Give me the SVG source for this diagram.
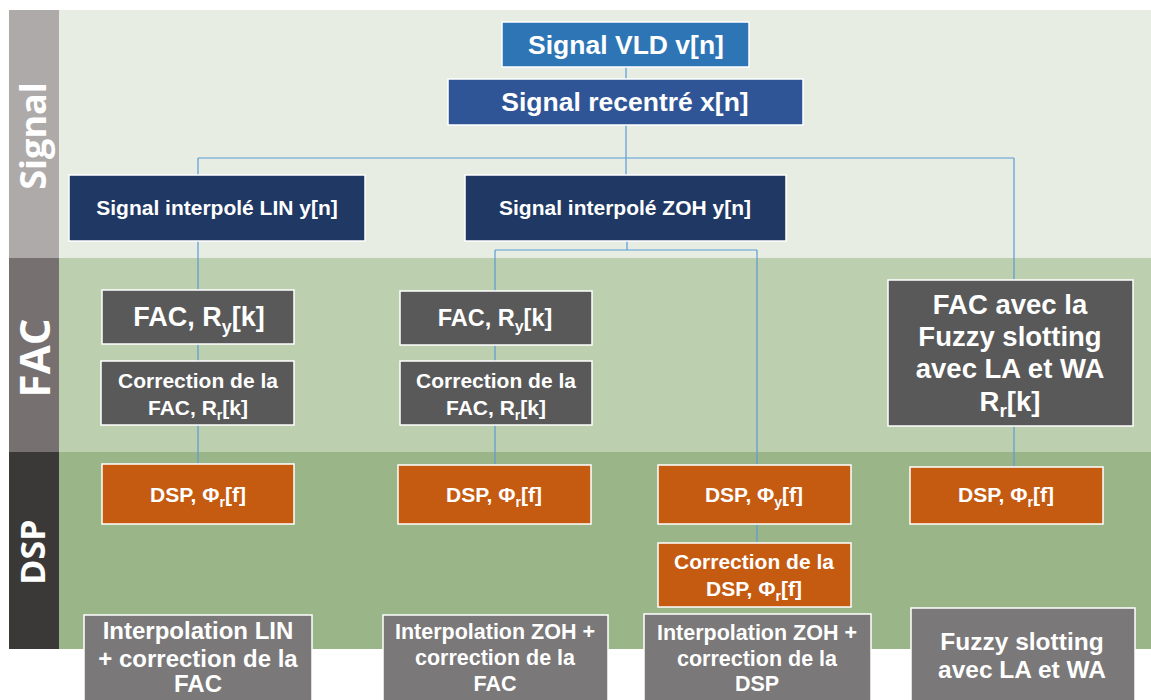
<svg xmlns="http://www.w3.org/2000/svg" width="1151" height="700" viewBox="0 0 1151 700">
<style>
text{font-family:"Liberation Sans",Arial,sans-serif;font-weight:bold;fill:#ffffff;text-anchor:middle}
.lbl{font-family:"Open Sans","DejaVu Sans",sans-serif;font-weight:bold}
.n{stroke:#ffffff;stroke-width:1.5}
.c1{fill:#2e75b6}.c2{fill:#2f5597}.c3{fill:#203864}.c4{fill:#595959}.c5{fill:#c55a11}.c6{fill:#7a7878}
.con{fill:none;stroke:#5b9bd5;stroke-width:1.2}
</style>
<rect width="1151" height="700" fill="#ffffff"/>
<g id="bands">
<rect x="59" y="10" width="1092" height="248" fill="#e7ede3"/>
<rect x="59" y="258" width="1092" height="194" fill="#bccfae"/>
<rect x="59" y="452" width="1092" height="197" fill="#9ab689"/>
<rect x="9" y="10" width="50" height="248" fill="#aeaaa9"/>
<rect x="9" y="258" width="50" height="194" fill="#767170"/>
<rect x="9" y="452" width="50" height="197" fill="#3b3938"/>
<text class="lbl" transform="translate(46,136) rotate(-90)" font-size="36">Signal</text>
<text class="lbl" transform="translate(50,358) rotate(-90)" font-size="42">FAC</text>
<text class="lbl" transform="translate(45,552) rotate(-90)" font-size="34">DSP</text>
</g>
<g id="connectors" class="con">
<path d="M626 67V79M626 125V175M198 158H1014M198 158V175M1014 158V280"/>
<path d="M198 241V290M198 344V361M198 425V464"/>
<path d="M627 241V250M495 250H757M495 250V291M495 345V361M495 425V465M757 250V465M757 524V543"/>
<path d="M1014 426V467"/>
</g>
<g id="n-vld"><rect class="n c1" x="502" y="22" width="247" height="45"/><text x="626" y="54" font-size="26.5">Signal VLD v[n]</text></g>
<g id="n-rec"><rect class="n c2" x="448" y="79" width="355" height="46"/><text x="625" y="111" font-size="26.5">Signal recentré x[n]</text></g>
<g id="n-lin"><rect class="n c3" x="69" y="175" width="296" height="66"/><text x="217" y="215" font-size="21">Signal interpolé LIN y[n]</text></g>
<g id="n-zoh"><rect class="n c3" x="465" y="175" width="321" height="66"/><text x="625" y="215" font-size="21">Signal interpolé ZOH y[n]</text></g>
<g id="n-fac1"><rect class="n c4" x="102" y="290" width="192" height="54"/><text x="199" y="326" font-size="27">FAC, R<tspan dy="7" font-size="18">y</tspan><tspan dy="-7">[k]</tspan></text></g>
<g id="n-cor1"><rect class="n c4" x="101" y="361" width="193" height="64"/><text x="198" y="388" font-size="21">Correction de la</text><text x="198" y="415" font-size="21">FAC, R<tspan dy="5" font-size="14">r</tspan><tspan dy="-5">[k]</tspan></text></g>
<g id="n-fac2"><rect class="n c4" x="400" y="291" width="192" height="54"/><text x="495" y="326" font-size="23.5">FAC, R<tspan dy="6" font-size="16">y</tspan><tspan dy="-6">[k]</tspan></text></g>
<g id="n-cor2"><rect class="n c4" x="400" y="361" width="192" height="64"/><text x="496" y="388" font-size="21">Correction de la</text><text x="496" y="415" font-size="21">FAC, R<tspan dy="5" font-size="14">r</tspan><tspan dy="-5">[k]</tspan></text></g>
<g id="n-fuzzyfac"><rect class="n c4" x="888" y="280" width="245" height="146"/><text x="1010" y="314" font-size="27.5">FAC avec la</text><text x="1010" y="346" font-size="27.5">Fuzzy slotting</text><text x="1010" y="378" font-size="27.5">avec LA et WA</text><text x="1010" y="411" font-size="27.5">R<tspan dy="6" font-size="19">r</tspan><tspan dy="-6">[k]</tspan></text></g>
<g id="n-dsp1"><rect class="n c5" x="102" y="464" width="192" height="60"/><text x="198" y="502" font-size="21">DSP, Φ<tspan dy="5" font-size="14">r</tspan><tspan dy="-5">[f]</tspan></text></g>
<g id="n-dsp2"><rect class="n c5" x="398" y="465" width="193" height="59"/><text x="494" y="502" font-size="21">DSP, Φ<tspan dy="5" font-size="14">r</tspan><tspan dy="-5">[f]</tspan></text></g>
<g id="n-dsp3"><rect class="n c5" x="658" y="465" width="193" height="59"/><text x="754" y="502" font-size="21">DSP, Φ<tspan dy="5" font-size="14">y</tspan><tspan dy="-5">[f]</tspan></text></g>
<g id="n-dsp4"><rect class="n c5" x="910" y="467" width="193" height="57"/><text x="1006" y="502" font-size="21">DSP, Φ<tspan dy="5" font-size="14">r</tspan><tspan dy="-5">[f]</tspan></text></g>
<g id="n-cordsp"><rect class="n c5" x="658" y="543" width="193" height="64"/><text x="754" y="569" font-size="21">Correction de la</text><text x="754" y="596" font-size="21">DSP, Φ<tspan dy="5" font-size="14">r</tspan><tspan dy="-5">[f]</tspan></text></g>
<g id="n-b1"><rect class="n c6" x="84" y="615" width="228" height="90"/><text x="198" y="639" font-size="24">Interpolation LIN</text><text x="198" y="667" font-size="24">+ correction de la</text><text x="198" y="692" font-size="24">FAC</text></g>
<g id="n-b2"><rect class="n c6" x="383" y="615" width="225" height="90"/><text x="495" y="639" font-size="21.5">Interpolation ZOH +</text><text x="495" y="665" font-size="21.5">correction de la</text><text x="495" y="691" font-size="21.5">FAC</text></g>
<g id="n-b3"><rect class="n c6" x="644" y="614" width="227" height="91"/><text x="757" y="640" font-size="21.5">Interpolation ZOH +</text><text x="757" y="666" font-size="21.5">correction de la</text><text x="757" y="691" font-size="21.5">DSP</text></g>
<g id="n-b4"><rect class="n c6" x="911" y="608" width="224" height="97"/><text x="1022" y="650" font-size="24.5">Fuzzy slotting</text><text x="1022" y="678" font-size="24.5">avec LA et WA</text></g>
</svg>
